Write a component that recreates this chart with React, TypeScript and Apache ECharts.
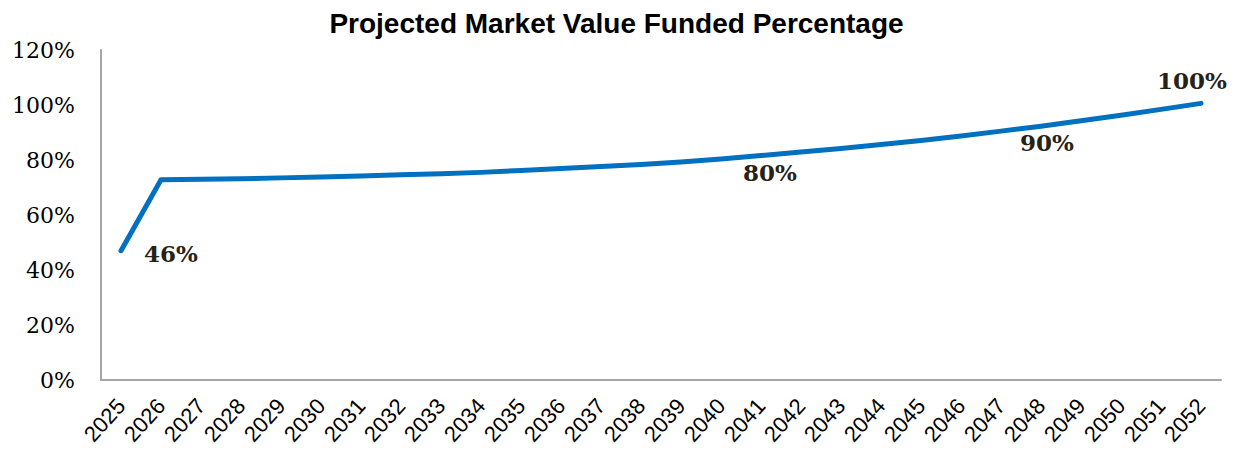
import React, { useEffect, useRef } from "react";
import * as echarts from "echarts";

const years: string[] = [
  "2025", "2026", "2027", "2028", "2029", "2030", "2031", "2032", "2033", "2034",
  "2035", "2036", "2037", "2038", "2039", "2040", "2041", "2042", "2043", "2044",
  "2045", "2046", "2047", "2048", "2049", "2050", "2051", "2052",
];

const fundedPct: number[] = [
  47.0, 72.8, 73.0, 73.2, 73.5, 73.8, 74.2, 74.6, 75.0, 75.5,
  76.2, 76.9, 77.6, 78.4, 79.3, 80.4, 81.6, 82.9, 84.2, 85.6,
  87.1, 88.7, 90.5, 92.3, 94.3, 96.3, 98.4, 100.6,
];

// labelled points: index -> text
const labelIdx: number[] = [0, 16, 23, 27];
const labelText: string[] = ["46%", "80%", "90%", "100%"];

const yTicks: number[] = [0, 20, 40, 60, 80, 100, 120];

export default function App() {
  const ref = useRef<HTMLDivElement>(null);
  useEffect(() => {
    if (!ref.current) return;
    const chart = echarts.init(ref.current, undefined, { renderer: "svg" });
    const labelFont = {
      fontFamily: "DejaVu Serif",
      fontWeight: "bold" as const,
      fontSize: 23,
      color: "#262216",
    };
    const labelPos: any[] = [
      { position: "right", offset: [18, 3] },
      { position: "bottom", offset: [9, 0] },
      { position: "bottom", offset: [6, 0] },
      { position: "top", offset: [-9, -6] },
    ];
    const data = fundedPct.map((v, i) => {
      const k = labelIdx.indexOf(i);
      if (k < 0) return v;
      return {
        value: v,
        label: {
          show: true,
          formatter: labelText[k],
          ...labelFont,
          ...labelPos[k],
        },
      };
    });
    chart.setOption({
      animation: false,
      title: {
        text: "Projected Market Value Funded Percentage",
        left: "center",
        top: 4,
        textStyle: {
          fontFamily: "Liberation Sans",
          fontWeight: "bold",
          fontSize: 28,
          color: "#000",
        },
      },
      grid: { left: 101, right: 12, top: 50, bottom: 75, containLabel: false },
      xAxis: {
        type: "category",
        data: years,
        boundaryGap: true,
        axisLine: { show: true, lineStyle: { color: "#a6a6a6", width: 2 } },
        axisTick: { show: false },
        axisLabel: {
          rotate: 48,
          interval: 0,
          fontFamily: "Liberation Sans",
          fontSize: 22,
          color: "#000",
          margin: 22,
        },
        splitLine: { show: false },
      },
      yAxis: {
        type: "value",
        min: yTicks[0],
        max: yTicks[yTicks.length - 1],
        interval: 20,
        axisLine: { show: true, lineStyle: { color: "#a6a6a6", width: 2 } },
        axisTick: { show: false },
        splitLine: { show: false },
        axisLabel: {
          formatter: (v: number) => `${v}%`,
          fontFamily: "DejaVu Serif",
          fontSize: 22,
          color: "#000",
          margin: 26,
        },
      },
      series: [
        {
          type: "line",
          data,
          smooth: false,
          symbol: "circle",
          symbolSize: 0,
          showSymbol: true,
          showAllSymbol: true,
          lineStyle: { color: "#0070C0", width: 5, cap: "round", join: "round" },
          itemStyle: { color: "#0070C0" },
          label: { show: false },
        },
      ],
    });
    return () => chart.dispose();
  }, []);
  return (
    <div
      ref={ref}
      style={{ position: "absolute", left: 0, top: 0, width: 1233, height: 455, background: "#fff" }}
    />
  );
}
